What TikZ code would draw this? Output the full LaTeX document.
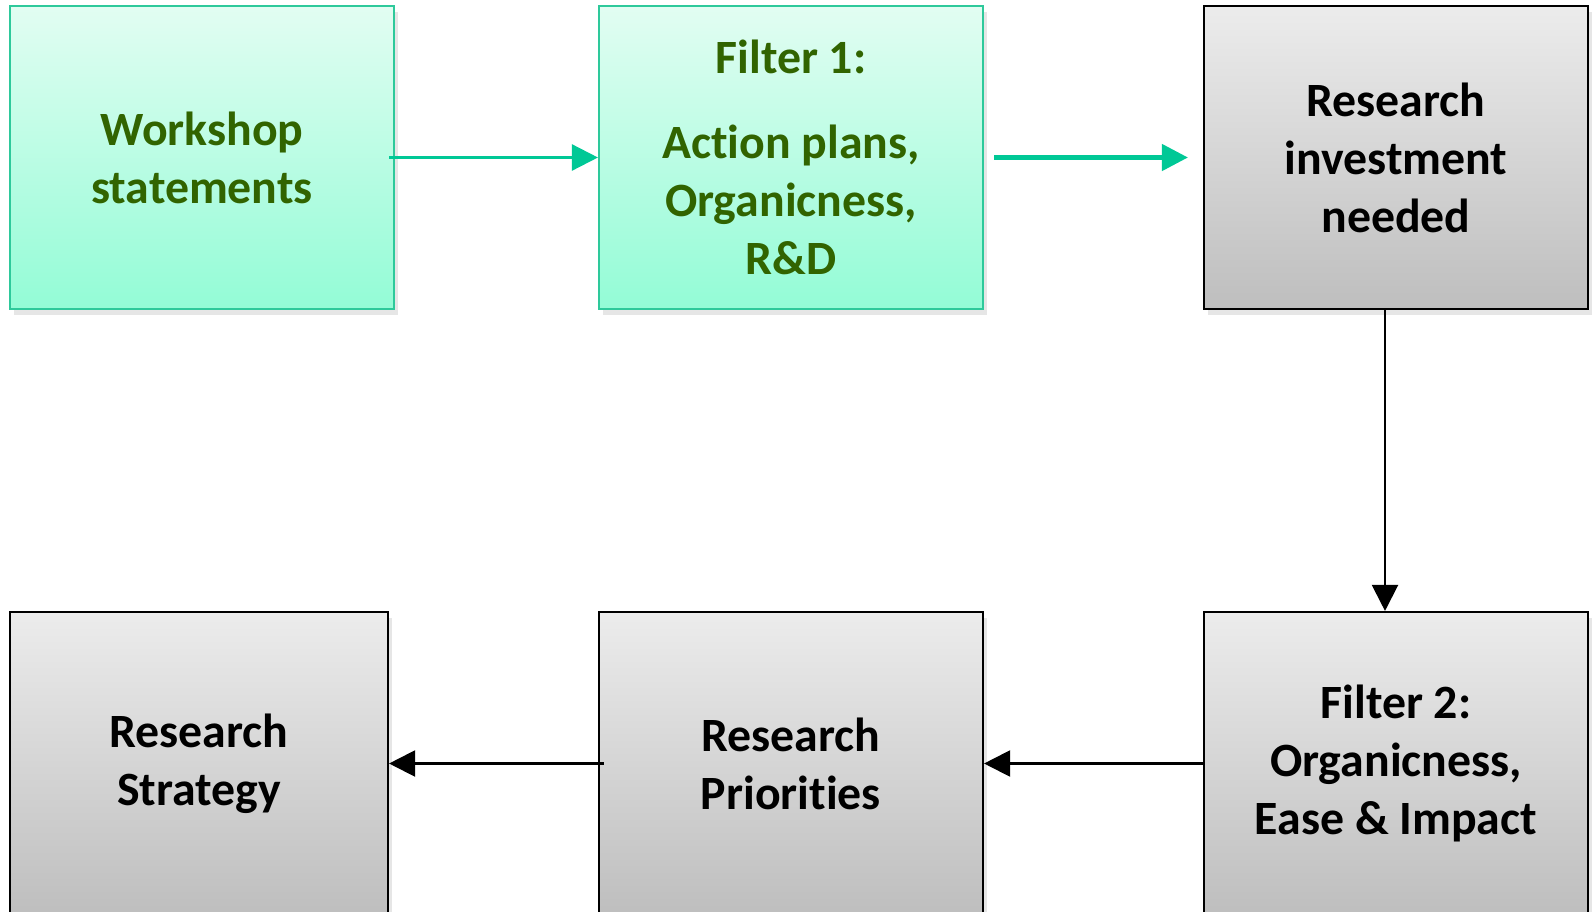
\documentclass[tikz,border=0pt]{standalone}
\usepackage{fontspec}
\setmainfont{Carlito}[Ligatures=NoCommon]
\usepackage{tikz}
\usetikzlibrary{arrows.meta,positioning,shadows}
\usepackage{xcolor}
\definecolor{boxgreen}{HTML}{2EC99B}
\definecolor{textgreen}{HTML}{316400}
\definecolor{arrowgreen}{HTML}{00C896}
\definecolor{greentop}{HTML}{E2FDF2}
\definecolor{greenbot}{HTML}{93FCD6}
\definecolor{greytop}{HTML}{ECECEC}
\definecolor{greybot}{HTML}{BEBEBE}

\begin{document}
\begin{tikzpicture}[
    greenbox/.style={rectangle,minimum width=3.84cm,minimum height=3.03cm,align=center,draw=boxgreen,line width=0.6pt,top color=greentop,bottom color=greenbot,text=textgreen,font=\fontsize{13.6}{16.5}\selectfont\bfseries,drop shadow={shadow xshift=0.4mm,shadow yshift=-0.6mm,opacity=0.2}},
    greybox/.style={rectangle,minimum width=3.84cm,minimum height=3.03cm,align=center,draw=black,line width=0.6pt,top color=greytop,bottom color=greybot,text=black,font=\fontsize{13.6}{16.5}\selectfont\bfseries,drop shadow={shadow xshift=0.4mm,shadow yshift=-0.6mm,opacity=0.2}},
    arrow/.style={-{Triangle[length=2.6mm,width=2.6mm]},line width=0.6pt,black},
    greenarrow/.style={-{Triangle[length=2.6mm,width=2.6mm]},line width=0.7pt,arrowgreen}
]
\useasboundingbox (0,0) rectangle (15.93,-9.12);
\clip (0,0) rectangle (15.93,-9.12);

% Top row
\node[greenbox] (work) at (2.02,-1.575) {Workshop\\statements};
\node[greenbox] (filta) at (7.91,-1.575) {Filter 1:\\[0.27cm]Action plans,\\Organicness,\\R\&D};
\node[greybox] (need) at (13.96,-1.575) {Research\\investment\\needed};

% Bottom row
\node[greybox,minimum width=3.78cm] (strat) at (1.99,-7.635) {Research\\Strategy};
\node[greybox] (prio) at (7.91,-7.635) {Research\\Priorities};
\node[greybox] (filtb) at (13.96,-7.635) {Filter 2:\\Organicness,\\Ease \& Impact};

% Arrows
\draw[greenarrow] ([xshift=-0.06cm]work.east) -- (filta.west);
\draw[greenarrow,line width=1.3pt] ([xshift=0.1cm]filta.east) -- ([xshift=-0.15cm]need.west);
\draw[arrow] ([xshift=-0.11cm]need.south) -- ([xshift=-0.11cm]filtb.north);
\draw[arrow] (filtb.west) -- (prio.east);
\draw[arrow] ([xshift=0.06cm]prio.west) -- (strat.east);
\end{tikzpicture}
\end{document}
